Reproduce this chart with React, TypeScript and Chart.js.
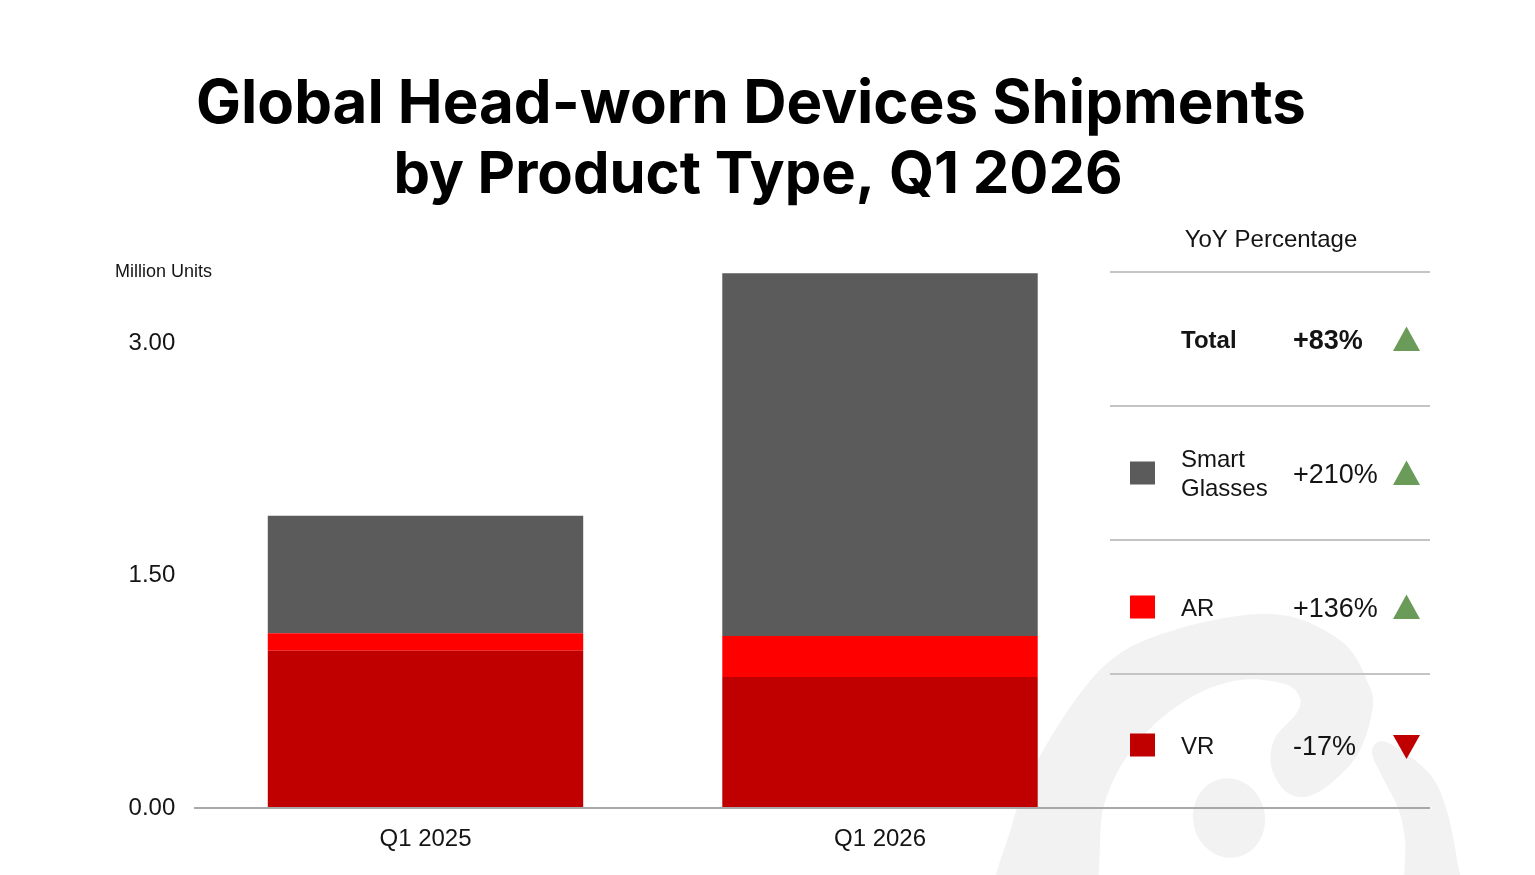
import { useEffect, useRef } from 'react';
import { Chart, registerables } from 'chart.js';

Chart.register(...registerables);

// Shipments in million units, stacked per quarter
const quarters = ['Q1 2025', 'Q1 2026'];
const vrUnits = [1.015, 0.845];
const arUnits = [0.112, 0.265];
const smartGlassesUnits = [0.758, 2.34];
const yTickValues = [0, 1.5, 3.0];

// Year-over-year table on the right
const yoyLabels = ['Total', 'Smart Glasses', 'AR', 'VR'];
const yoyChange = [83, 210, 136, -17];

const FONT = '"Liberation Sans", Arial, Helvetica, sans-serif';
const TITLE_FONT = 'Inter, "Open Sans", sans-serif';
const SG_COLOR = '#5b5b5b';
const AR_COLOR = '#ff0000';
const VR_COLOR = '#c00000';
const UP_COLOR = '#6a9b58';
const DOWN_COLOR = '#c00000';
const TEXT_COLOR = '#141414';

type Pt = [number, number];

// Closed Catmull-Rom spline through the given points
function smoothClosed(ctx: CanvasRenderingContext2D, pts: Pt[]) {
  const n = pts.length;
  ctx.moveTo(pts[0][0], pts[0][1]);
  for (let i = 0; i < n; i++) {
    const p0 = pts[(i - 1 + n) % n];
    const p1 = pts[i];
    const p2 = pts[(i + 1) % n];
    const p3 = pts[(i + 2) % n];
    ctx.bezierCurveTo(
      p1[0] + (p2[0] - p0[0]) / 6,
      p1[1] + (p2[1] - p0[1]) / 6,
      p2[0] - (p3[0] - p1[0]) / 6,
      p2[1] - (p3[1] - p1[1]) / 6,
      p2[0],
      p2[1]
    );
  }
  ctx.closePath();
}

// Faint brand mark in the lower right corner
const watermarkPlugin = {
  id: 'watermark',
  beforeDraw(chart: Chart) {
    const ctx = chart.ctx;
    ctx.save();
    ctx.fillStyle = '#f2f2f2';
    const arc: Pt[] = [
      [998, 905], [1012, 825], [1041, 754], [1102, 668], [1171, 631], [1273, 614],
      [1341, 641], [1369, 685], [1372, 712], [1358, 754], [1330, 784], [1305, 797],
      [1284, 790], [1271, 765], [1275, 738], [1296, 714], [1300, 698], [1285, 684],
      [1240, 680], [1188, 699], [1137, 743], [1104, 805], [1088, 905],
    ];
    ctx.beginPath();
    smoothClosed(ctx, arc);
    ctx.fill();

    const hook: Pt[] = [
      [1372, 752], [1386, 742], [1428, 772], [1446, 808], [1457, 860], [1460, 905],
      [1409, 905], [1405, 840], [1398, 808], [1384, 780],
    ];
    ctx.beginPath();
    smoothClosed(ctx, hook);
    ctx.fill();

    ctx.beginPath();
    ctx.ellipse(1229, 818, 36, 40, -0.2, 0, Math.PI * 2);
    ctx.fill();
    ctx.restore();
  },
};

// Title, unit label, baseline and the YoY table
const overlayPlugin = {
  id: 'overlay',
  afterDraw(chart: Chart) {
    const ctx = chart.ctx;
    const yScale = chart.scales.y;
    const baseY = yScale.getPixelForValue(0);
    ctx.save();

    // Title
    ctx.fillStyle = '#000';
    ctx.textAlign = 'center';
    ctx.textBaseline = 'alphabetic';
    ctx.font = `700 60px ${TITLE_FONT}`;
    ctx.fillText('Global Head-worn Devices Shipments', 751, 123);
    ctx.font = `700 58px ${TITLE_FONT}`;
    ctx.fillText('by Product Type, Q1 2026', 758, 193);

    // Unit label
    ctx.fillStyle = TEXT_COLOR;
    ctx.textAlign = 'left';
    ctx.font = `18px ${FONT}`;
    ctx.fillText('Million Units', 115, 277);

    // Baseline under bars, running across the table
    ctx.strokeStyle = '#a8a8a8';
    ctx.lineWidth = 2;
    ctx.beginPath();
    ctx.moveTo(194, baseY);
    ctx.lineTo(1430, baseY);
    ctx.stroke();

    // Table header and separators
    const tableLeft = 1110;
    const tableRight = 1430;
    const tableTop = 272;
    const rowH = (baseY - tableTop) / yoyLabels.length;
    ctx.textAlign = 'center';
    ctx.font = `24px ${FONT}`;
    ctx.fillText('YoY Percentage', 1271, 247);

    ctx.strokeStyle = '#c4c4c4';
    for (let i = 0; i < yoyLabels.length; i++) {
      const y = tableTop + rowH * i;
      ctx.beginPath();
      ctx.moveTo(tableLeft, y);
      ctx.lineTo(tableRight, y);
      ctx.stroke();
    }

    const swatches = [null, SG_COLOR, AR_COLOR, VR_COLOR];
    yoyLabels.forEach((label, i) => {
      const cy = tableTop + rowH * (i + 0.5) + (i === yoyLabels.length - 1 ? 4 : 0);
      const bold = i === 0;
      const swatch = swatches[i];
      if (swatch) {
        ctx.fillStyle = swatch;
        ctx.fillRect(1130, cy - 11.5, 25, 23);
      }
      ctx.fillStyle = TEXT_COLOR;
      ctx.textAlign = 'left';
      ctx.font = `${bold ? '700 ' : ''}24px ${FONT}`;
      const words = label.split(' ');
      if (words.length > 1) {
        ctx.fillText(words[0], 1181, cy - 14.5 + 8.6);
        ctx.fillText(words.slice(1).join(' '), 1181, cy + 14.5 + 8.6);
      } else {
        ctx.fillText(label, 1181, cy + 8.6);
      }
      const v = yoyChange[i];
      ctx.font = `${bold ? '700 ' : ''}27px ${FONT}`;
      ctx.fillText(`${v >= 0 ? '+' : ''}${v}%`, 1293, cy + 9.7);

      // Direction marker
      const tx = 1406.5;
      ctx.beginPath();
      if (v >= 0) {
        ctx.fillStyle = UP_COLOR;
        ctx.moveTo(tx, cy - 12.5);
        ctx.lineTo(tx + 13.5, cy + 12);
        ctx.lineTo(tx - 13.5, cy + 12);
      } else {
        ctx.fillStyle = DOWN_COLOR;
        ctx.moveTo(tx - 13.5, cy - 10);
        ctx.lineTo(tx + 13.5, cy - 10);
        ctx.lineTo(tx, cy + 14);
      }
      ctx.closePath();
      ctx.fill();
    });

    ctx.restore();
  },
};

export default function App() {
  const canvasRef = useRef<HTMLCanvasElement | null>(null);

  useEffect(() => {
    const canvas = canvasRef.current;
    if (!canvas) return;
    const barShare = 0.694;
    const chart = new Chart(canvas, {
      type: 'bar',
      data: {
        labels: quarters,
        datasets: [
          { label: 'VR', data: vrUnits, backgroundColor: VR_COLOR, borderWidth: 0, barPercentage: 1, categoryPercentage: barShare },
          { label: 'AR', data: arUnits, backgroundColor: AR_COLOR, borderWidth: 0, barPercentage: 1, categoryPercentage: barShare },
          { label: 'Smart Glasses', data: smartGlassesUnits, backgroundColor: SG_COLOR, borderWidth: 0, barPercentage: 1, categoryPercentage: barShare },
        ],
      },
      options: {
        responsive: false,
        animation: false,
        devicePixelRatio: 1,
        layout: { padding: { left: 0, right: 427.75, top: 265.5, bottom: 0 } },
        plugins: {
          legend: { display: false },
          tooltip: { enabled: false },
          title: { display: false },
        },
        scales: {
          x: {
            stacked: true,
            grid: { display: false },
            border: { display: false },
            ticks: { font: { family: FONT, size: 24 }, color: TEXT_COLOR, padding: 9 },
            afterFit: (scale: any) => {
              scale.height = 67;
            },
          },
          y: {
            stacked: true,
            min: 0,
            max: 3.5,
            grid: { display: false },
            border: { display: false },
            ticks: {
              font: { family: FONT, size: 24 },
              color: TEXT_COLOR,
              padding: 15,
              callback: (v: any) => Number(v).toFixed(2),
            },
            afterBuildTicks: (scale: any) => {
              scale.ticks = yTickValues.map((value) => ({ value }));
            },
            afterFit: (scale: any) => {
              scale.width = 198.25;
            },
          },
        },
      },
      plugins: [watermarkPlugin, overlayPlugin],
    });
    return () => chart.destroy();
  }, []);

  return (
    <div style={{ position: 'fixed', left: 0, top: 0, width: 1535, height: 875, background: '#fff' }}>
      <canvas ref={canvasRef} width={1535} height={875} style={{ display: 'block' }} />
    </div>
  );
}
